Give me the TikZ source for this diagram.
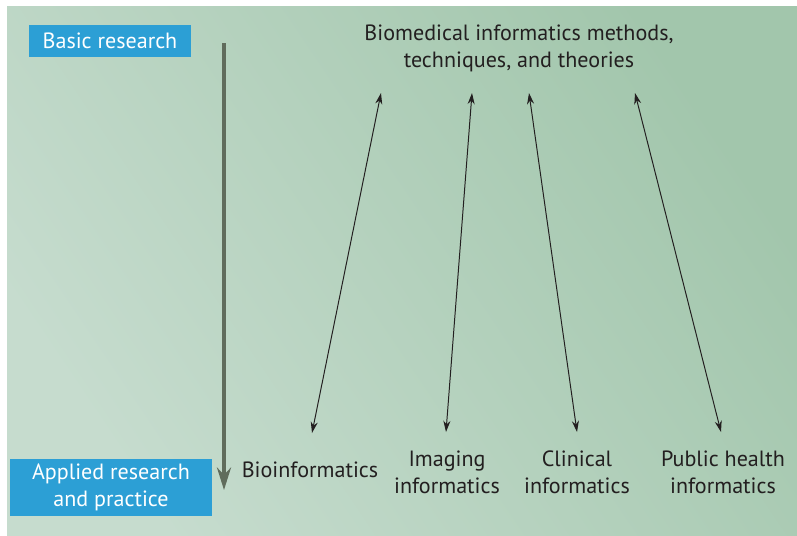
\documentclass[tikz,border=0pt]{standalone}
\usepackage{fontspec}
\setmainfont{PT Sans}
\usetikzlibrary{arrows.meta}
\definecolor{boxblue}{RGB}{44,159,213}
\definecolor{inkdark}{RGB}{35,31,32}
\definecolor{axisgray}{RGB}{96,108,92}
\definecolor{bglight}{RGB}{198,220,206}
\definecolor{bgdark}{RGB}{162,198,172}

\begin{document}
\begin{tikzpicture}[x=0.025cm,y=-0.025cm,
  label text/.style={text=inkdark,font=\fontsize{15.7}{19.3}\selectfont,align=center},
  level box/.style={fill=boxblue,text=white,font=\fontsize{15.7}{19.3}\selectfont,align=center,inner sep=0pt},
  link/.style={{Stealth[length=8pt,width=5pt]}-{Stealth[length=8pt,width=5pt]},inkdark,line width=0.7pt}]
\useasboundingbox (0,0) rectangle (797,535);
\fill[white] (0,0) rectangle (797,535);
\shade[top color=bgdark,bottom color=bglight,shading angle=-56] (7,6) rectangle (797,535); % panel

% research levels
\node[level box,minimum width=4.05cm,minimum height=0.8cm] (basic) at (110,41) {Basic research};
\node[level box,minimum width=5.05cm,minimum height=1.425cm] (applied) at (111,487.5) {Applied research\\and practice};
\coordinate (top) at (224,43);
\coordinate (bottom) at (224,490);
\draw[-{Stealth[length=16pt,width=10pt]},axisgray,line width=2.2pt] (top) -- (bottom); % axis

% methods and the four areas
\node[label text] (theory) at (519,48) {Biomedical informatics methods,\\techniques, and theories};
\node[label text] (bio) at (310,470) {Bioinformatics};
\node[label text] (img) at (447,472) {Imaging\\informatics};
\node[label text] (clin) at (577,472) {Clinical\\informatics};
\node[label text] (pub) at (723,472) {Public health\\informatics};

\coordinate (t1) at (381,93);  \coordinate (b1) at (312,433);
\coordinate (t2) at (472,93);  \coordinate (b2) at (446,432);
\coordinate (t3) at (529,93);  \coordinate (b3) at (577,432);
\coordinate (t4) at (635,93);  \coordinate (b4) at (721,432);
\foreach \i in {1,...,4}
  \draw[link] (t\i) -- (b\i);
\end{tikzpicture}
\end{document}
